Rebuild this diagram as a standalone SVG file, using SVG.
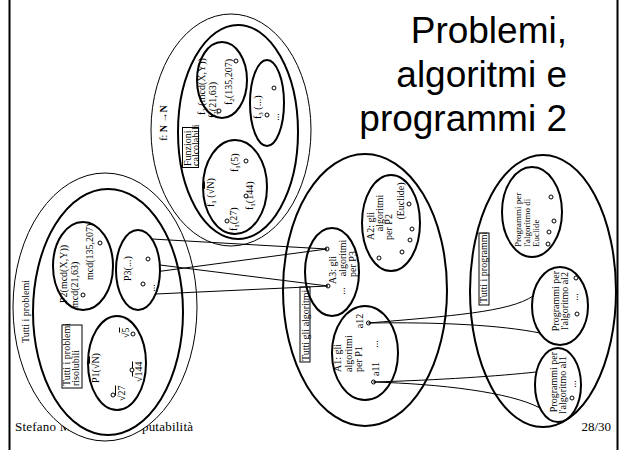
<svg xmlns="http://www.w3.org/2000/svg" width="620" height="450" viewBox="0 0 620 450">
  <style>
    .thin { fill: none; stroke: #000; stroke-width: 1; }
    .thick { fill: none; stroke: #000; stroke-width: 2; }
    .box { fill: none; stroke: #000; stroke-width: 1; }
    .dot { fill: #fff; stroke: #000; stroke-width: 1; }
    .conn { fill: none; stroke: #000; stroke-width: 1; }
    .lbl { font-family: "Liberation Serif", "Times New Roman", serif; font-size: 10px; fill: #000; }
    .sm { font-size: 9px; }
    .title { font-family: "Liberation Sans", Arial, sans-serif; font-size: 37px; fill: #000; }
    .foot { font-family: "Liberation Serif", "Times New Roman", serif; font-size: 13px; fill: #000; }
  </style>
  <rect width="620" height="450" fill="#fff"/>

  <!-- slide frame -->
  <line x1="9.5" y1="0" x2="9.5" y2="450" stroke="#000" stroke-width="2"/>
  <line x1="617.5" y1="0" x2="617.5" y2="450" stroke="#000" stroke-width="2"/>

  <!-- title -->
  <g id="title">
    <text class="title" x="567" y="43" text-anchor="end">Problemi,</text>
    <text class="title" x="567" y="87" text-anchor="end">algoritmi e</text>
    <text class="title" x="567" y="131" text-anchor="end">programmi 2</text>
  </g>

  <!-- footer -->
  <text class="foot" x="15" y="431" textLength="178" lengthAdjust="spacing">Stefano Mizzaro - Computabilità</text>
  <text class="foot" x="611" y="431" text-anchor="end">28/30</text>

  <!-- all problems -->
  <g id="problemi">
    <ellipse cx="105" cy="307" rx="92" ry="134" class="thin" fill="#fff" style="fill:#fff"/>
    <text class="lbl" font-size="10.5" transform="translate(29,343) rotate(-90)">Tutti i problemi</text>
  </g>

  <g id="risolubili">
    <ellipse cx="108" cy="312" rx="75" ry="123" class="thick"/>
    <rect x="62" y="325" width="20" height="63" class="box"/>
    <text class="lbl" font-size="9.5" transform="translate(70,386) rotate(-90)">Tutti i problemi</text>
    <text class="lbl" font-size="9.5" transform="translate(79,386) rotate(-90)">risolubili</text>
  </g>

  <g id="P2">
    <ellipse cx="83" cy="266" rx="30" ry="44" class="thick"/>
    <text class="lbl" transform="translate(67,303) rotate(-90)">P2(mcd(X,Y))</text>
    <text class="lbl" transform="translate(78,308) rotate(-90)">mcd(21,63)</text>
    <text class="lbl" transform="translate(93,280) rotate(-90)">mcd(135,207)</text>
    <circle cx="83" cy="295" r="2" class="dot"/>
    <circle cx="100" cy="243" r="2" class="dot"/>
  </g>

  <g id="P3">
    <ellipse cx="138" cy="270" rx="22" ry="40" class="thick"/>
    <text class="lbl" transform="translate(131,281) rotate(-90)">P3(...)</text>
    <text class="lbl" text-anchor="middle" transform="translate(155,288) rotate(-90)">...</text>
    <circle cx="148" cy="259" r="2" class="dot"/>
    <circle cx="143" cy="284" r="2" class="dot"/>
  </g>

  <g id="P1">
    <ellipse cx="117" cy="363" rx="29" ry="47" class="thick"/>
    <text class="lbl" transform="translate(99,383) rotate(-90)">P1(√<tspan text-decoration="overline">N</tspan>)</text>
    <text class="lbl" transform="translate(129,338) rotate(-90)">√<tspan text-decoration="overline">5</tspan></text>
    <text class="lbl" transform="translate(142,382) rotate(-90)">√<tspan text-decoration="overline">144</tspan></text>
    <text class="lbl" transform="translate(125,401) rotate(-90)">√<tspan text-decoration="overline">27</tspan></text>
    <circle cx="133" cy="334" r="2" class="dot"/>
    <circle cx="132" cy="370" r="2" class="dot"/>
    <circle cx="113" cy="395" r="2" class="dot"/>
  </g>

  <!-- functions N -> N -->
  <g id="funzioni">
    <ellipse cx="231" cy="130" rx="80" ry="116" class="thin"/>
    <text class="lbl" text-anchor="middle" transform="translate(167,123) rotate(-90)">f: <tspan font-weight="bold">N</tspan> →<tspan font-weight="bold">N</tspan></text>
  </g>

  <g id="calcolabili">
    <ellipse cx="238" cy="132" rx="60" ry="107" class="thick"/>
    <rect x="182.5" y="127.5" width="16" height="40" class="box"/>
    <text class="lbl" font-size="9.5" transform="translate(191,166) rotate(-90)">Funzioni</text>
    <text class="lbl" font-size="9.5" transform="translate(198.5,166) rotate(-90)">calcolabili</text>
  </g>

  <g id="f2">
    <ellipse cx="222" cy="80" rx="25" ry="38" class="thick"/>
    <text class="lbl" transform="translate(205,115) rotate(-90)">f<tspan dy="2" font-size="7">2</tspan><tspan dy="-2"> (mcd(X,Y))</tspan></text>
    <text class="lbl" transform="translate(216,118) rotate(-90)">f<tspan dy="2" font-size="7">2</tspan><tspan dy="-2">(21,63)</tspan></text>
    <text class="lbl" transform="translate(232,105) rotate(-90)">f<tspan dy="2" font-size="7">2</tspan><tspan dy="-2">(135,207)</tspan></text>
    <circle cx="219" cy="111" r="2" class="dot"/>
    <circle cx="236" cy="61" r="2" class="dot"/>
  </g>

  <g id="f3">
    <ellipse cx="267" cy="103" rx="17" ry="43" class="thick"/>
    <text class="lbl" transform="translate(261,119) rotate(-90)">f<tspan dy="2" font-size="7">3</tspan><tspan dy="-2"> (...)</tspan></text>
    <text class="lbl" text-anchor="middle" transform="translate(279,117) rotate(-90)">...</text>
    <circle cx="274" cy="88" r="2" class="dot"/>
    <circle cx="267" cy="115" r="2" class="dot"/>
  </g>

  <g id="f1">
    <ellipse cx="235" cy="187" rx="32" ry="47" class="thick"/>
    <text class="lbl" transform="translate(214,207) rotate(-90)">f<tspan dy="2" font-size="7">1</tspan><tspan dy="-2"> (√<tspan text-decoration="overline">N</tspan>)</tspan></text>
    <text class="lbl" transform="translate(238,172) rotate(-90)">f<tspan dy="2" font-size="7">1</tspan><tspan dy="-2">(5)</tspan></text>
    <text class="lbl" transform="translate(253,210) rotate(-90)">f<tspan dy="2" font-size="7">1</tspan><tspan dy="-2">(144)</tspan></text>
    <text class="lbl" transform="translate(237,231) rotate(-90)">f<tspan dy="2" font-size="7">1</tspan><tspan dy="-2">(27)</tspan></text>
    <circle cx="246" cy="161" r="2" class="dot"/>
    <circle cx="246" cy="196" r="2" class="dot"/>
    <circle cx="227" cy="221" r="2" class="dot"/>
  </g>

  <!-- all algorithms -->
  <g id="algoritmi">
    <ellipse cx="365" cy="290" rx="82" ry="136" class="thick"/>
    <rect x="300" y="287" width="10" height="75" class="box"/>
    <text class="lbl" transform="translate(308.5,361) rotate(-90)">Tutti gli algoritmi</text>
  </g>

  <g id="A3">
    <ellipse cx="332" cy="272" rx="27" ry="44" class="thick"/>
    <text class="lbl" text-anchor="middle" transform="translate(336,270) rotate(-90)">A3: gli</text>
    <text class="lbl" text-anchor="middle" transform="translate(346,258) rotate(-90)">algoritmi</text>
    <text class="lbl" text-anchor="middle" transform="translate(356,264) rotate(-90)">per P3</text>
    <text class="lbl" text-anchor="middle" transform="translate(345,291) rotate(-90)">...</text>
    <circle cx="327" cy="249" r="2" class="dot"/>
    <circle cx="328" cy="286" r="2" class="dot"/>
  </g>

  <g id="A2">
    <ellipse cx="391" cy="223" rx="29" ry="48" class="thick"/>
    <text class="lbl" text-anchor="middle" transform="translate(374,226) rotate(-90)">A2: gli</text>
    <text class="lbl" text-anchor="middle" transform="translate(383,213) rotate(-90)">algoritmi</text>
    <text class="lbl" text-anchor="middle" transform="translate(392,227) rotate(-90)">per P2</text>
    <text class="lbl" text-anchor="middle" transform="translate(404,201) rotate(-90)">(Euclide)</text>
    <circle cx="409" cy="204" r="2" class="dot"/>
    <circle cx="412" cy="229" r="2" class="dot"/>
    <circle cx="410" cy="240" r="2" class="dot"/>
    <circle cx="402" cy="252" r="2" class="dot"/>
    <circle cx="379" cy="258" r="2" class="dot"/>
  </g>

  <g id="A1">
    <ellipse cx="365" cy="353" rx="33" ry="47" class="thick"/>
    <text class="lbl" transform="translate(341,372) rotate(-90)">A1: gli</text>
    <text class="lbl" transform="translate(352,372) rotate(-90)">algoritmi</text>
    <text class="lbl" transform="translate(362,372) rotate(-90)">per P1</text>
    <text class="lbl" text-anchor="middle" transform="translate(363,321) rotate(-90)">a12</text>
    <text class="lbl" text-anchor="middle" transform="translate(378,344) rotate(-90)">...</text>
    <text class="lbl" text-anchor="middle" transform="translate(379,369) rotate(-90)">a11</text>
    <circle cx="368.5" cy="323" r="2" class="dot"/>
    <circle cx="373.5" cy="382" r="2" class="dot"/>
  </g>

  <!-- all programs -->
  <g id="programmi">
    <ellipse cx="543" cy="291" rx="73" ry="136" class="thick"/>
    <rect x="479" y="233" width="10" height="72" class="box"/>
    <text class="lbl" font-size="9.8" transform="translate(487,303) rotate(-90)">Tutti i programmi</text>
  </g>

  <g id="prog-euclide">
    <ellipse cx="532" cy="212" rx="30" ry="45" class="thick"/>
    <text class="lbl sm" transform="translate(521,247) rotate(-90)">Programmi per</text>
    <text class="lbl sm" transform="translate(530,247) rotate(-90)">l'algoritmo di</text>
    <text class="lbl sm" transform="translate(538.5,247) rotate(-90)">Euclide</text>
    <circle cx="551" cy="197" r="2" class="dot"/>
    <circle cx="554" cy="221" r="2" class="dot"/>
    <circle cx="549" cy="232" r="2" class="dot"/>
    <circle cx="548" cy="244" r="2" class="dot"/>
  </g>

  <g id="prog-al2">
    <ellipse cx="560" cy="306" rx="28" ry="39" class="thick"/>
    <text class="lbl" text-anchor="middle" transform="translate(559,301) rotate(-90)">Programmi per</text>
    <text class="lbl" text-anchor="middle" transform="translate(568,301) rotate(-90)">l'algoritmo al2</text>
    <text class="lbl" text-anchor="middle" transform="translate(578,297) rotate(-90)">...</text>
    <circle cx="576" cy="278" r="2" class="dot"/>
    <circle cx="577" cy="314" r="2" class="dot"/>
  </g>

  <g id="prog-al1">
    <ellipse cx="558" cy="385" rx="23" ry="37" class="thick"/>
    <text class="lbl" text-anchor="middle" transform="translate(557,382) rotate(-90)">Programmi per</text>
    <text class="lbl" text-anchor="middle" transform="translate(566,385) rotate(-90)">l'algoritmo al1</text>
    <text class="lbl" text-anchor="middle" transform="translate(576,384) rotate(-90)">...</text>
    <circle cx="572" cy="398" r="2" class="dot"/>
  </g>

  <!-- connectors: problem P3 to its algorithms, algorithms of P1 to their programs -->
  <g id="connectors">
    <path class="conn" d="M152,239 L327,249"/>
    <path class="conn" d="M160,271.3 L327,249"/>
    <path class="conn" d="M160,265 L328,286"/>
    <path class="conn" d="M156,294 L328,286"/>
    <path class="conn" d="M368.5,323 C450,316 510,312 533,296"/>
    <path class="conn" d="M368.5,323 C440,322 500,325 540,333"/>
    <path class="conn" d="M373.5,382 C440,380 500,376 536,372"/>
    <path class="conn" d="M373.5,382 C440,384 510,392 540,408"/>
  </g>
</svg>
